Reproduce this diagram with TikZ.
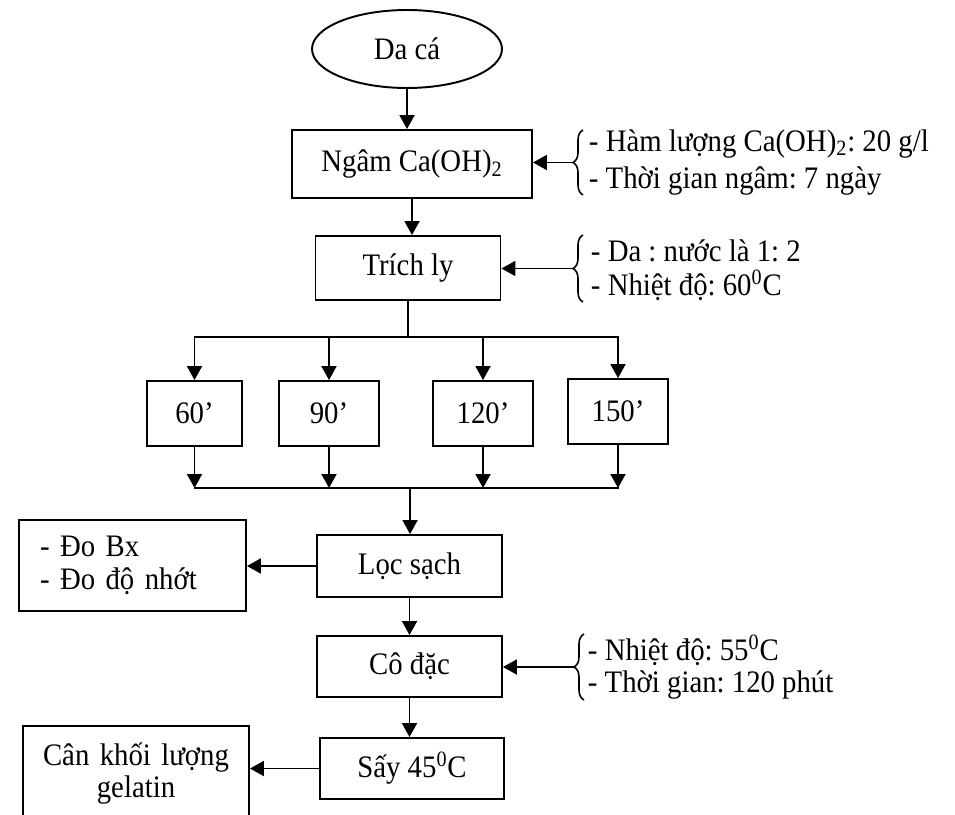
\documentclass[tikz,border=0pt]{standalone}
\usepackage{fontspec}
\setmainfont{Liberation Serif}[FakeStretch=0.92]
\usetikzlibrary{shapes.geometric, arrows.meta, decorations.pathreplacing}
\frenchspacing

\begin{document}
\begin{tikzpicture}[x=0.02cm, y=-0.02cm, line width=1.1pt,
    >={Triangle[length=0.28cm, width=0.3cm]},
    every node/.style={font=\fontsize{17.8}{18.4}\selectfont},
    stepbox/.style={draw, rectangle, minimum height=1.3cm, inner sep=0pt},
    timebox/.style={draw, rectangle, minimum width=2cm, minimum height=1.3cm, inner sep=0pt},
    notes/.style={align=left, anchor=west, inner sep=0pt},
    curly/.style={decorate, line width=0.9pt, decoration={brace, amplitude=0.2cm}}]
    \clip (0,0) rectangle (955,814);

    % Steps
    \node[draw, ellipse, minimum width=3.8cm, minimum height=1.56cm, inner sep=0pt] (daca) at (407,49) {Da cá};
    \node[stepbox, minimum width=4.8cm, minimum height=1.36cm] (ngam)  at (412,164)   {Ngâm Ca(OH)\textsubscript{2}};
    \node[stepbox, minimum width=3.7cm, minimum height=1.28cm] (trich) at (408,268)   {Trích ly};
    \node[timebox, minimum width=1.9cm]                        (t60)   at (194.5,413.5) {60’};
    \node[timebox]                                             (t90)   at (329,413.5) {90’};
    \node[timebox]                                             (t120)  at (483,413.5) {120’};
    \node[timebox]                                             (t150)  at (618,411.5) {150’};
    \node[stepbox, minimum width=3.7cm, minimum height=1.24cm] (loc)   at (409.5,566) {Lọc sạch};
    \node[stepbox, minimum width=3.7cm, minimum height=1.22cm] (co)    at (409.5,666.5) {Cô đặc};
    \node[stepbox, minimum width=3.68cm, minimum height=1.22cm] (say)  at (412,768.5) {Sấy 45\textsuperscript{0}C};

    % Side boxes
    \node[draw, text width=3.7cm, inner xsep=0.42cm, inner ysep=0pt, minimum height=1.82cm, align=left]
        (do) at (132.5,565.5) {- Đo Bx\\- Đo độ nhớt};
    \node[draw, text width=4.52cm, inner sep=0pt, minimum height=1.9cm, align=center, anchor=north]
        (can) at (136,725) {Cân khối lượng\\gelatin};

    % Conditions
    \draw[curly] (583,195) -- (583,130);
    \coordinate (b1) at (573,162.5);
    \node[notes] (n1) at (588,162.5) {- Hàm lượng Ca(OH)\textsubscript{2}: 20 g/l\\[0.1cm]- Thời gian ngâm: 7 ngày};
    \draw[curly] (583,302) -- (583,235);
    \coordinate (b2) at (573,268.5);
    \node[notes] (n2) at (590,270) {- Da : nước là 1: 2\\[0.04cm]- Nhiệt độ: 60\textsuperscript{0}C};
    \draw[curly] (584,700) -- (584,634);
    \coordinate (b3) at (574,667);
    \node[notes] (n3) at (587,667) {- Nhiệt độ: 55\textsuperscript{0}C\\- Thời gian: 120 phút};

    % Flow
    \coordinate (fork) at (408,337);
    \coordinate (join) at (410,488);
    \draw[->] (daca.south) -- (daca.south |- ngam.north);
    \draw[->] (ngam.south) -- (ngam.south |- trich.north);
    \draw (trich.south) -- (trich.south |- fork);
    \draw[line cap=rect] (t60 |- fork) -- (t150 |- fork);
    \foreach \t in {t60, t90, t120, t150} {
        \draw[->] (\t |- fork) -- (\t.north);
        \draw[->] (\t.south) -- (\t |- join);
    }
    \draw[line cap=rect] (t60 |- join) -- (t150 |- join);
    \draw[->] (join) -- (join |- loc.north);
    \draw[->] (loc.south) -- (loc.south |- co.north);
    \draw[->] (co.south) -- (co.south |- say.north);

    % Side arrows
    \draw[->] (b1) -- (b1 -| ngam.east);
    \draw[->] (b2) -- (b2 -| trich.east);
    \draw[->] (b3) -- (b3 -| co.east);
    \draw[->] (loc.west) -- (loc.west -| do.east);
    \draw[->] (say.west) -- (say.west -| can.east);
\end{tikzpicture}
\end{document}
